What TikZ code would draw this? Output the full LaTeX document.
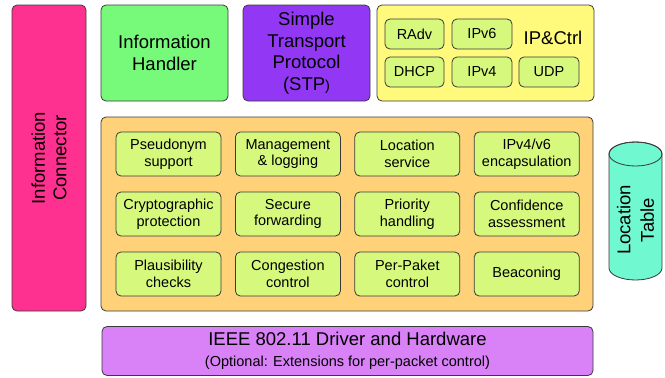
\documentclass[tikz,border=0pt]{standalone}
\usepackage{fontspec}
\setmainfont{Liberation Sans}

\definecolor{connpink}{HTML}{FF3190}
\definecolor{handlergreen}{HTML}{77FA7A}
\definecolor{stppurple}{HTML}{9238F5}
\definecolor{ipyellow}{HTML}{FFF97C}
\definecolor{modgreen}{HTML}{D6F97D}
\definecolor{coreorange}{HTML}{FFD27A}
\definecolor{tablecyan}{HTML}{70F8D0}
\definecolor{drvlilac}{HTML}{D981F7}
\definecolor{edge}{HTML}{3A3A3A}

\newcommand{\bigtxt}{\fontsize{18.5}{21.5}\selectfont}
\newcommand{\smalltxt}{\fontsize{14.5}{16.5}\selectfont}

\begin{document}
\begin{tikzpicture}[x=1pt,y=-1pt,
    block/.style={draw=edge,line width=0.8pt,rounded corners=5pt,inner sep=0pt,
        align=center,font=\bigtxt},
    module/.style={block,fill=modgreen,font=\smalltxt,
        minimum width=105pt,minimum height=44pt},
    ipmodule/.style={block,fill=modgreen,font=\smalltxt,minimum height=30pt}]
    \useasboundingbox (0,0) rectangle (665,378);

    % left column
    \node[block,fill=connpink,rotate=90,minimum width=306pt,minimum height=74pt]
        (conn) at (49,158) {Information\\Connector};

    % top row
    \node[block,fill=handlergreen,minimum width=127pt,minimum height=96pt]
        (handler) at (164.5,53) {Information\\Handler};
    \node[block,fill=stppurple,minimum width=127pt,minimum height=96pt]
        (stp) at (306.5,53) {Simple\\Transport\\Protocol\\(STP{\smalltxt)}};
    \node[block,fill=ipyellow,minimum width=217pt,minimum height=96pt]
        (ipctrl) at (485.5,53) {};
    \node[anchor=center,font=\bigtxt] (iplabel) at (553,38) {IP\&Ctrl};

    % IP modules
    \node[ipmodule,minimum width=59pt] (radv) at (414.5,34) {RAdv};
    \node[ipmodule,minimum width=60pt] (ipv6) at (482,34) {IPv6};
    \node[ipmodule,minimum width=59pt] (dhcp) at (414.5,72) {DHCP};
    \node[ipmodule,minimum width=60pt] (ipv4) at (482,72) {IPv4};
    \node[ipmodule,minimum width=60pt] (udp) at (549,72) {UDP};

    % core with its modules
    \node[block,fill=coreorange,minimum width=492pt,minimum height=194pt]
        (core) at (347,214) {};
    \foreach \name/\txt/\col/\row in {
        pseudo/{Pseudonym\\support}/0/0,
        mgmt/{Management\\\& logging}/1/0,
        locsrv/{Location\\service}/2/0,
        encap/{IPv4/v6\\encapsulation}/3/0,
        crypto/{Cryptographic\\protection}/0/1,
        secfwd/{Secure\\forwarding}/1/1,
        prio/{Priority\\handling}/2/1,
        conf/{Confidence\\assessment}/3/1,
        plaus/{Plausibility\\checks}/0/2,
        cong/{Congestion\\control}/1/2,
        perpkt/{Per-Paket\\control}/2/2,
        beacon/{Beaconing}/3/2}
        \node[module] (\name) at (168.5+119.4*\col,154+60*\row) {\txt};

    % location table (cylinder)
    \draw[edge,line width=0.8pt,fill=tablecyan]
        (609,154) -- (609,268) arc (180:360:26.5pt and 12pt)
        -- (662,154) arc (0:180:26.5pt and 12pt) -- cycle;
    \draw[edge,line width=0.8pt] (635.5,154) ellipse (26.5pt and 12pt);
    \node[rotate=90,align=center,inner sep=0pt,font=\fontsize{18.5}{23.5}\selectfont]
        (loctable) at (635.5,220) {Location\\Table};

    % driver
    \node[block,fill=drvlilac,minimum width=491pt,minimum height=49pt]
        (driver) at (347.5,351) {IEEE 802.11 Driver and Hardware\\[-1pt]
        {\smalltxt (Optional: Extensions for per-packet control)}};
\end{tikzpicture}
\end{document}
